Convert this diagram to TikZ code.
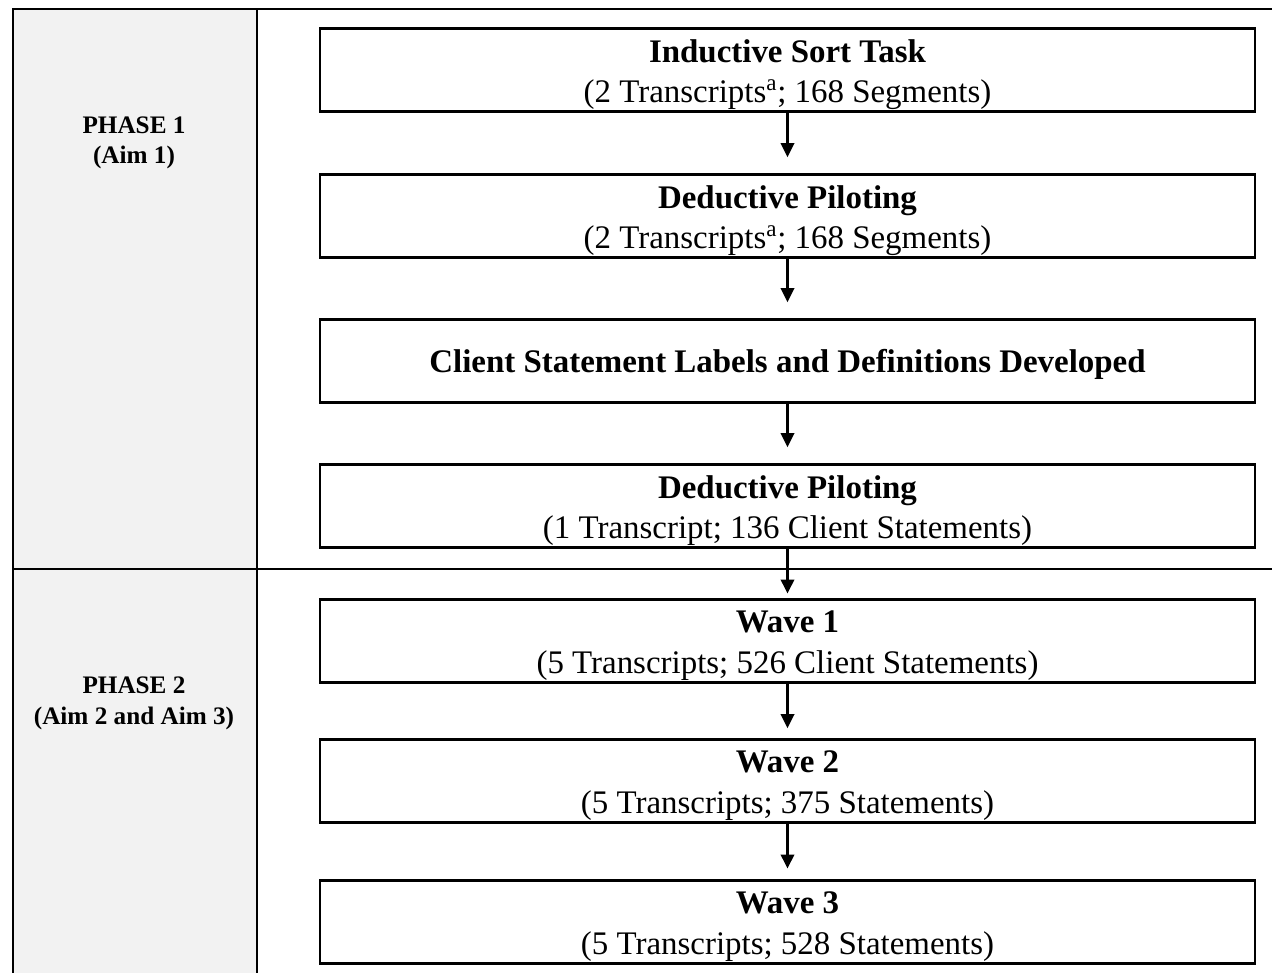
\documentclass[tikz,border=0pt]{standalone}
\usepackage{fontspec}
\setmainfont{Liberation Serif}
\usetikzlibrary{arrows.meta}
\definecolor{phasegray}{HTML}{F2F2F2}
\tikzset{
  stepbox/.style={draw=black, line width=2pt, fill=white, minimum width=935*0.75pt, minimum height=83*0.75pt, inner sep=0pt},
  boxtext/.style={align=center, inner sep=0pt, font=\fontsize{24.7}{30.5}\selectfont},
  phaselabel/.style={align=center, font=\fontsize{18.9}{23}\selectfont\bfseries},
  frame/.style={line width=2.2pt},
  flow/.style={line width=1.9pt, -{Triangle[length=10.5pt,width=10pt]}}
}
\begin{document}
\begin{tikzpicture}[x=0.75pt,y=-0.75pt]
\useasboundingbox (0,0) rectangle (1272,972);
\fill[phasegray] (13,9) rectangle (257,980);
\draw[frame] (13,980) -- (13,9) -- (1272,9);
\draw[frame] (257,9) -- (257,980);
\draw[frame] (13,569) -- (1272,569);

\node[phaselabel] (p1) at (134,143) {PHASE 1\\(Aim 1)};
\node[phaselabel] (p2) at (134,703) {PHASE 2\\(Aim 2 and Aim 3)};

\node[stepbox] (b1) at (787.5,70) {};
\node[stepbox] (b2) at (787.5,216) {};
\node[stepbox] (b3) at (787.5,361) {};
\node[stepbox] (b4) at (787.5,506) {};
\node[stepbox] (b5) at (787.5,641) {};
\node[stepbox] (b6) at (787.5,781) {};
\node[stepbox] (b7) at (787.5,922) {};

\node[boxtext] (t1) at ([yshift=-3.5pt]b1.center) {\textbf{Inductive Sort Task}\\(2 Transcripts\textsuperscript{a}; 168 Segments)};
\node[boxtext] (t2) at ([yshift=-3.5pt]b2.center) {\textbf{Deductive Piloting}\\(2 Transcripts\textsuperscript{a}; 168 Segments)};
\node[boxtext] (t3) at ([yshift=-2.5pt]b3.center) {\textbf{Client Statement Labels and Definitions Developed}};
\node[boxtext] (t4) at ([yshift=-3.5pt]b4.center) {\textbf{Deductive Piloting}\\(1 Transcript; 136 Client Statements)};
\node[boxtext] (t5) at ([yshift=-3.5pt]b5.center) {\textbf{Wave 1}\\(5 Transcripts; 526 Client Statements)};
\node[boxtext] (t6) at ([yshift=-3.5pt]b6.center) {\textbf{Wave 2}\\(5 Transcripts; 375 Statements)};
\node[boxtext] (t7) at ([yshift=-3.5pt]b7.center) {\textbf{Wave 3}\\(5 Transcripts; 528 Statements)};

\draw[flow, shorten >=12pt] (b1.south) -- (b2.north);
\draw[flow, shorten >=12pt] (b2.south) -- (b3.north);
\draw[flow, shorten >=12pt] (b3.south) -- (b4.north);
\draw[flow, shorten >=3.5pt] (b4.south) -- (b5.north);
\draw[flow, shorten >=7.5pt] (b5.south) -- (b6.north);
\draw[flow, shorten >=8pt] (b6.south) -- (b7.north);
\end{tikzpicture}
\end{document}
